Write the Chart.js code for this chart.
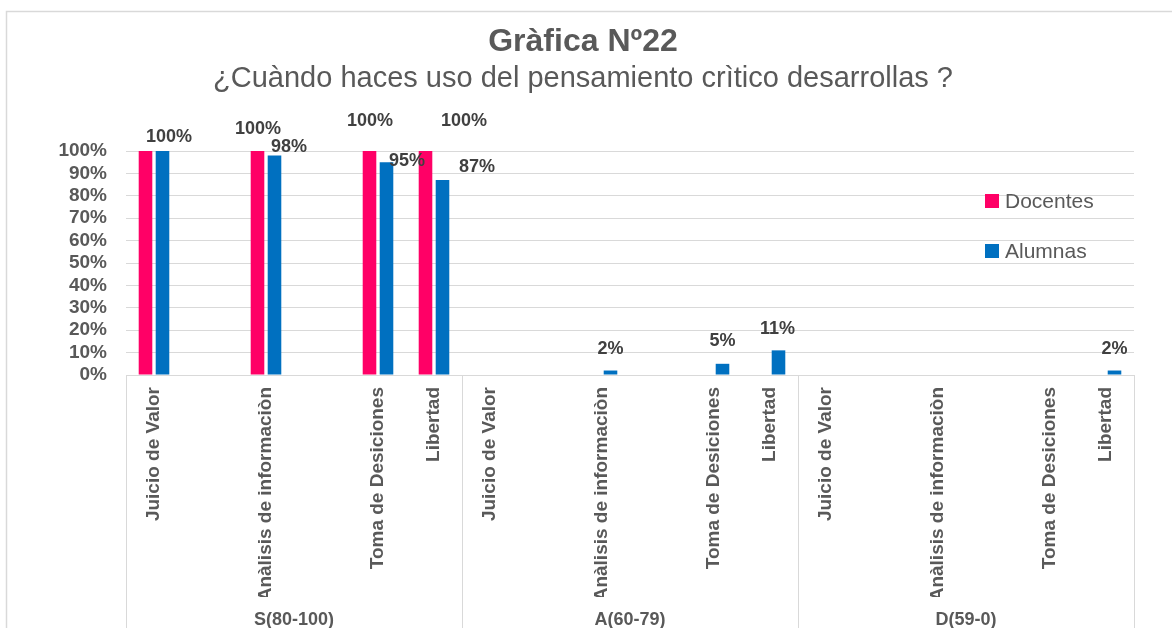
<!DOCTYPE html>
<html>
<head>
<meta charset="utf-8">
<script src="https://cdn.jsdelivr.net/npm/chart.js@4.4.1/dist/chart.umd.min.js"></script>
<style>
html,body{margin:0;padding:0;background:#fff;}
#wrap{width:1172px;height:628px;position:relative;}
</style>
</head>
<body>
<div id="wrap"><canvas id="c" width="1172" height="628"></canvas></div>
<script>
// ---- data ----
const categories = [
  "Juicio de Valor", "", "Anàlisis de informaciòn", "", "Toma de Desiciones", "Libertad",
  "Juicio de Valor", "", "Anàlisis de informaciòn", "", "Toma de Desiciones", "Libertad",
  "Juicio de Valor", "", "Anàlisis de informaciòn", "", "Toma de Desiciones", "Libertad"
];
const groups = ["S(80-100)", "A(60-79)", "D(59-0)"];
const seriesNames = ["Docentes", "Alumnas"];
const docentes = [100, null, 100, null, 100, 100,
                  null, null, null, null, null, null,
                  null, null, null, null, null, null];
const alumnas  = [100, null, 98, null, 95, 87,
                  null, null, 2, null, 5, 11,
                  null, null, null, null, null, 2];
const yTickValues = [0, 10, 20, 30, 40, 50, 60, 70, 80, 90, 100];
const titleText = 'Gràfica Nº22';
const subtitleText = '¿Cuàndo haces uso del pensamiento crìtico desarrollas ?';

// label placement (offsets from bar top, like hand-dragged Excel labels)
const docLabelDX = [null, null, 0.5, null, 0.5, 38.5, null,null,null,null,null,null, null,null,null,null,null,null];
const docLabelDY = [null, null, -22, null, -30, -30, null,null,null,null,null,null, null,null,null,null,null,null];
const aluLabelDX = [6.5, null, 14.5, null, 20.5, 34.5, null,null,0,null,0,-1, null,null,null,null,null,0];
const aluLabelDY = [-14, null, -8.5, null, -1, -13, null,null,-21.5,null,-23,-21.5, null,null,null,null,null,-21.5];

const RED = '#FF0066';
const BLUE = '#0070C0';
const GRID = '#d9d9d9';
const TXT = '#595959';
const FAM = '"Liberation Sans", Arial, sans-serif';

const frame = {
  id: 'frame',
  beforeDraw(chart) {
    const ctx = chart.ctx;
    ctx.save();
    ctx.fillStyle = '#fff';
    ctx.fillRect(0, 0, chart.width, chart.height);
    ctx.strokeStyle = GRID;
    ctx.lineWidth = 1.5;
    ctx.strokeRect(6.5, 11.5, 1300, 1000);
    ctx.restore();
  }
};

const titles = {
  id: 'titles',
  afterDraw(chart) {
    const ctx = chart.ctx;
    const cx = 583;
    ctx.save();
    ctx.fillStyle = TXT;
    ctx.textAlign = 'center';
    ctx.textBaseline = 'alphabetic';
    ctx.font = 'bold 32px ' + FAM;
    ctx.fillText(titleText, cx, 51);
    ctx.font = '29px ' + FAM;
    ctx.fillText(subtitleText, cx, 87);
    ctx.restore();
  }
};

const separators = {
  id: 'separators',
  afterDraw(chart) {
    const x = chart.scales.x;
    const ctx = chart.ctx;
    ctx.save();
    ctx.strokeStyle = GRID;
    ctx.lineWidth = 1;
    const per = categories.length / groups.length;
    for (let g = 0; g <= groups.length; g++) {
      const px = Math.round(x.getPixelForValue(g * per - 0.5)) + 0.5;
      ctx.beginPath();
      ctx.moveTo(px, x.top);
      ctx.lineTo(px, chart.height);
      ctx.stroke();
    }
    ctx.restore();
  }
};

const valueLabels = {
  id: 'valueLabels',
  afterDatasetsDraw(chart) {
    const ctx = chart.ctx;
    const offs = [[docLabelDX, docLabelDY], [aluLabelDX, aluLabelDY]];
    ctx.save();
    ctx.font = 'bold 18px ' + FAM;
    ctx.fillStyle = '#404040';
    ctx.textAlign = 'center';
    ctx.textBaseline = 'middle';
    chart.data.datasets.forEach((ds, di) => {
      const meta = chart.getDatasetMeta(di);
      ds.data.forEach((v, i) => {
        if (v === null || offs[di][0][i] === null) return;
        const el = meta.data[i];
        ctx.fillText(v + '%', el.x + offs[di][0][i], el.y + offs[di][1][i]);
      });
    });
    ctx.restore();
  }
};

const customLegend = {
  id: 'customLegend',
  afterDraw(chart) {
    const ctx = chart.ctx;
    const area = chart.chartArea;
    ctx.save();
    ctx.font = '21px ' + FAM;
    ctx.textBaseline = 'middle';
    ctx.textAlign = 'left';
    chart.data.datasets.forEach((ds, di) => {
      const cy = area.top + 50 + di * 50;
      const bx = area.right - 149;
      ctx.fillStyle = ds.backgroundColor;
      ctx.fillRect(bx, cy - 7, 14, 14);
      ctx.fillStyle = TXT;
      ctx.fillText(ds.label, bx + 20, cy + 1);
    });
    ctx.restore();
  }
};

new Chart(document.getElementById('c'), {
  type: 'bar',
  data: {
    labels: categories,
    datasets: [
      { label: seriesNames[0], data: docentes, backgroundColor: RED },
      { label: seriesNames[1], data: alumnas, backgroundColor: BLUE }
    ]
  },
  options: {
    responsive: false,
    animation: false,
    devicePixelRatio: 1,
    barPercentage: 0.8,
    categoryPercentage: 0.607,
    layout: { padding: { left: 6, right: 38, top: 151, bottom: 0 } },
    plugins: {
      legend: { display: false },
      tooltip: { enabled: false },
      title: { display: false },
      subtitle: { display: false }
    },
    scales: {
      x: {
        type: 'category',
        position: 'bottom',
        weight: 0,
        offset: true,
        grid: { display: false },
        border: { display: true, color: GRID, width: 1 },
        ticks: {
          autoSkip: false,
          minRotation: 90,
          maxRotation: 90,
          padding: 4,
          color: TXT,
          font: { family: FAM, size: 19, weight: 'bold' }
        },
        afterFit(s) { s.height = 222; }
      },
      x2: {
        type: 'category',
        position: 'bottom',
        weight: 1,
        labels: groups,
        offset: true,
        grid: { display: false },
        border: { display: false },
        ticks: {
          autoSkip: false,
          maxRotation: 0,
          padding: 4,
          color: TXT,
          font: { family: FAM, size: 18, weight: 'bold' }
        },
        afterFit(s) { s.height = 31; }
      },
      y: {
        min: 0,
        max: 100,
        afterBuildTicks(s) { s.ticks = yTickValues.map(v => ({ value: v })); },
        grid: { color: GRID, lineWidth: 1, drawTicks: false },
        border: { display: false },
        ticks: {
          autoSkip: false,
          padding: 19,
          color: TXT,
          font: { family: FAM, size: 19, weight: 'bold' },
          callback: v => v + '%'
        },
        afterFit(s) { s.width = 120; }
      }
    }
  },
  plugins: [frame, titles, separators, valueLabels, customLegend]
});
</script>
</body>
</html>
